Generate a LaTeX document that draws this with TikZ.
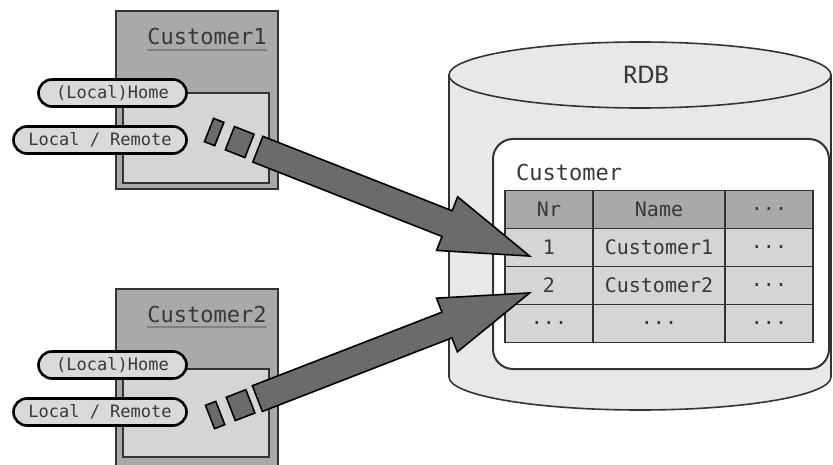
\documentclass[tikz,border=0pt]{standalone}
\usepackage{fontspec}
\setmainfont{Carlito}
\newfontfamily\consfont{DejaVu Sans Mono}
\usetikzlibrary{shapes.misc,shapes.arrows}

\definecolor{boxGray}{HTML}{A9A9A9}
\definecolor{paleGray}{HTML}{D5D5D5}
\definecolor{pillGray}{HTML}{D9D9D9}
\definecolor{dbGray}{HTML}{E8E8E8}
\definecolor{arrowGray}{HTML}{6B6B6B}
\definecolor{inkGray}{HTML}{333333}
\definecolor{txtGray}{HTML}{383838}

\tikzset{
  outerbox/.style={draw=inkGray, line width=2pt, fill=boxGray, anchor=north west, inner sep=0},
  innerbox/.style={draw=inkGray, line width=1.6pt, fill=paleGray, anchor=north west, inner sep=0},
  boxtitle/.style={font=\consfont\fontsize{22}{26}\selectfont, text=txtGray, anchor=base, inner sep=0},
  titleline/.style={draw=gray, line width=2pt},
  pill/.style={rounded rectangle, draw=black, line width=2.6pt, fill=pillGray, minimum height=27pt,
    inner sep=0, font=\consfont\fontsize{17}{20}\selectfont, text=txtGray},
  piece/.style={draw=black, line width=1.6pt, fill=arrowGray, minimum height=25pt, inner sep=0},
  fatarrow/.style={single arrow, draw=black, line width=1.6pt, fill=arrowGray, inner xsep=0,
    inner ysep=13pt, single arrow head extend=15pt, single arrow tip angle=36, minimum height=292pt},
  dbshape/.style={draw=inkGray, line width=1.6pt, fill=dbGray},
  hcell/.style={draw=inkGray, line width=1.6pt, fill=boxGray, minimum width=88pt, minimum height=38pt,
    inner sep=0, font=\consfont\fontsize{20}{24}\selectfont, text=txtGray},
  cell/.style={hcell, fill=paleGray},
}

\begin{document}
\begin{tikzpicture}[x=1pt,y=-1pt]
\useasboundingbox (0,0) rectangle (833,465);

% database
\draw[dbshape] (449,75) -- (449,377) arc[start angle=180, end angle=0, x radius=191, y radius=33] -- (831,75) -- cycle;
\draw[dbshape] (640,75) ellipse[x radius=191, y radius=33];
\node[font=\fontsize{27}{30}\selectfont, text=txtGray] (rdb) at (646,75) {RDB};

\node[draw=inkGray, line width=2pt, fill=white, rounded corners=20pt, anchor=north west,
  minimum width=336pt, minimum height=230pt, inner sep=0] (tbox) at (492,138) {};
\node[anchor=west, inner sep=0, font=\consfont\fontsize{22}{26}\selectfont, text=txtGray] (tname) at (516,172) {Customer};

% table
\node[hcell] (hnr) at (549,209.5) {Nr};
\node[hcell, minimum width=132pt] (hname) at (659,209.5) {Name};
\node[hcell] (hmore) at (769,209.5) {...};
\node[cell] (nr1) at (549,247.5) {1};
\node[cell, minimum width=132pt] (name1) at (659,247.5) {Customer1};
\node[cell] (more1) at (769,247.5) {...};
\node[cell] (nr2) at (549,285.5) {2};
\node[cell, minimum width=132pt] (name2) at (659,285.5) {Customer2};
\node[cell] (more2) at (769,285.5) {...};
\node[cell] (nr3) at (549,323.5) {...};
\node[cell, minimum width=132pt] (name3) at (659,323.5) {...};
\node[cell] (more3) at (769,323.5) {...};

% customer 1
\node[outerbox, minimum width=162pt, minimum height=178pt] (cust1) at (115,10) {};
\node[innerbox, minimum width=146pt, minimum height=90pt] (in1) at (122,92) {};
\node[boxtitle] (t1) at (207,45) {Customer1};
\draw[titleline] ([yshift=-5pt]t1.base west) -- ([yshift=-5pt]t1.base east);
\node[pill, minimum width=148pt] (home1) at (112.5,93) {(Local)Home};
\node[pill, minimum width=173pt] (remote1) at (100,140) {Local / Remote};

% customer 2
\node[outerbox, minimum width=162pt, minimum height=178pt] (cust2) at (115,288) {};
\node[innerbox, minimum width=146pt, minimum height=88pt] (in2) at (122,368) {};
\node[boxtitle] (t2) at (207,322) {Customer2};
\draw[titleline] ([yshift=-5pt]t2.base west) -- ([yshift=-5pt]t2.base east);
\node[pill, minimum width=148pt] (home2) at (112.5,365) {(Local)Home};
\node[pill, minimum width=173pt] (remote2) at (100,412) {Local / Remote};

% arrows
\coordinate (c1tail) at (209,130);
\coordinate (c1tip) at ([xshift=-17pt,yshift=-9.5pt]nr1.center);
\coordinate (c2tail) at (210,417);
\coordinate (c2tip) at ([xshift=-17pt,yshift=-6.5pt]nr2.center);
\path (c1tail) -- (c1tip)
  node[piece, sloped, pos=0.016, minimum width=11pt] (c1p1) {}
  node[piece, sloped, pos=0.095, minimum width=21pt] (c1p2) {}
  node[fatarrow, sloped, pos=1, anchor=tip] (c1arrow) {};
\path (c2tail) -- (c2tip)
  node[piece, sloped, pos=0.016, minimum width=11pt] (c2p1) {}
  node[piece, sloped, pos=0.095, minimum width=21pt] (c2p2) {}
  node[fatarrow, sloped, pos=1, anchor=tip] (c2arrow) {};
\end{tikzpicture}
\end{document}
